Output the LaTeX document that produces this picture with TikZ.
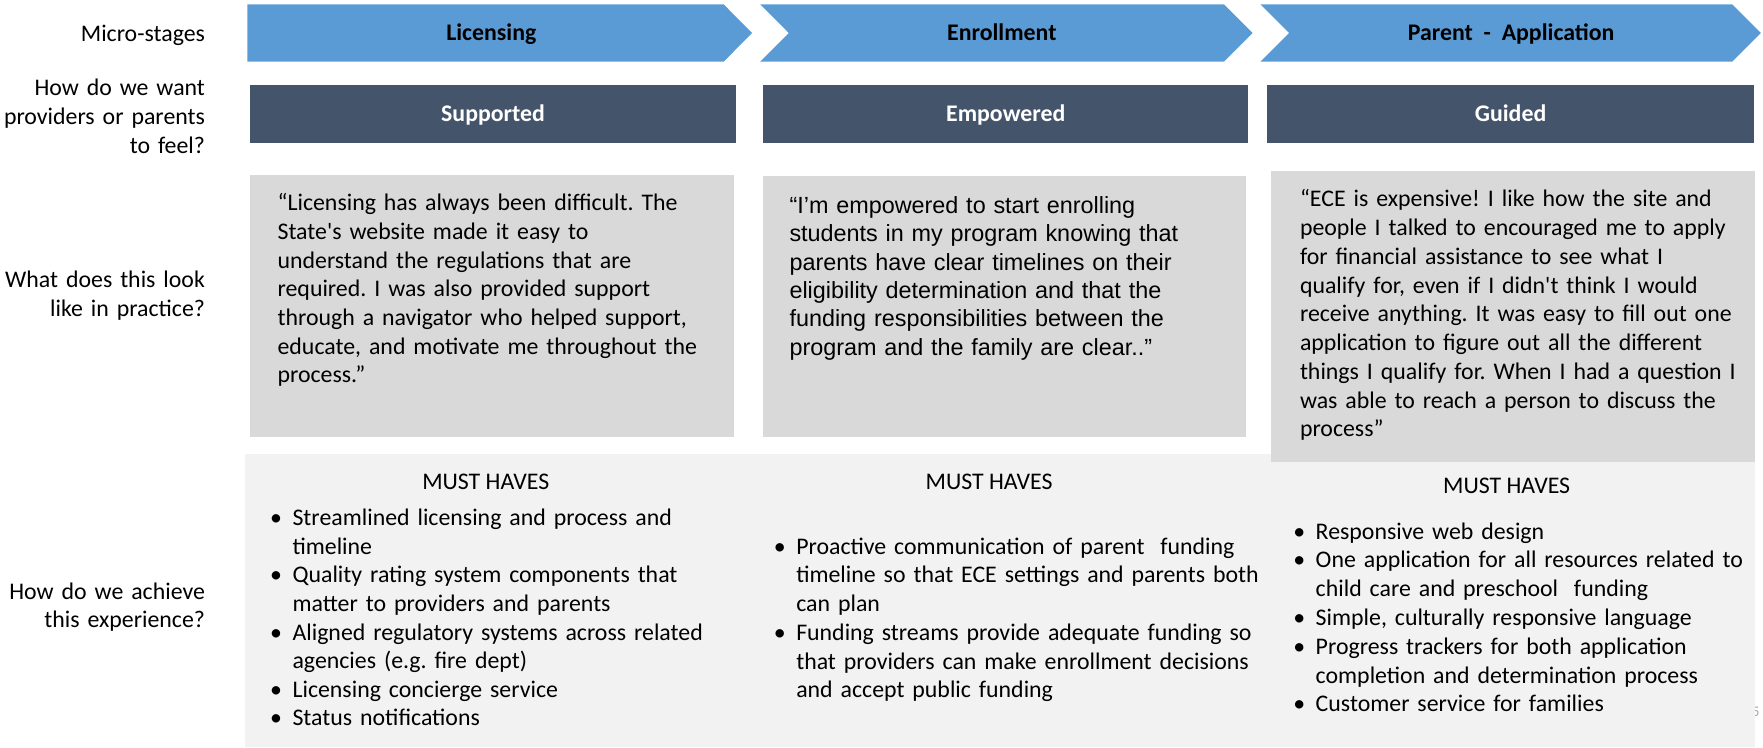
\documentclass[tikz,border=0pt]{standalone}
\usepackage{fontspec}
\setmainfont{Carlito}[Ligatures=TeXOff]
\newfontfamily\arialfont{Liberation Sans}[Ligatures=TeXOff]
\usetikzlibrary{positioning}
\frenchspacing

\definecolor{stageblue}{HTML}{5B9BD5}
\definecolor{feelbar}{HTML}{44546A}
\definecolor{quotegray}{HTML}{D9D9D9}
\definecolor{panelgray}{HTML}{F2F2F2}
\definecolor{slidegray}{HTML}{A6A6A6}

\newcommand{\mhbullet}{\makebox[20pt][l]{\textbullet}}
\newcommand{\mhindent}{\hspace*{20pt}}

\tikzset{
	rowlabel/.style={font=\fontsize{21.2}{25.8}\selectfont, text width=200pt, align=right, inner sep=0pt, anchor=base east},
	stagetext/.style={font=\fontsize{21.2}{25}\selectfont\bfseries, inner sep=0pt, anchor=base},
	feeltext/.style={font=\fontsize{21.2}{25}\selectfont\bfseries, text=white, inner sep=0pt, anchor=base},
	quotetext/.style={font=\fontsize{21.2}{25.5}\selectfont, text width=500pt, align=left, inner sep=0pt, anchor=base west},
	musthead/.style={font=\fontsize{21.2}{25}\selectfont, inner sep=0pt, anchor=base},
	mustlist/.style={font=\fontsize{21.2}{25.4}\selectfont, text width=520pt, align=left, inner sep=0pt, anchor=base west}
}

\begin{document}
\begin{tikzpicture}[x=1pt,y=-1pt]
	\useasboundingbox (0,0) rectangle (1568,665);
	\pgfmathsetmacro{\StageTop}{3.8}
	\pgfmathsetmacro{\StageBot}{54.9}
	\pgfmathsetmacro{\StageMid}{29.35}
	\pgfmathsetmacro{\Tip}{25.5}
	\pgfmathsetmacro{\FeelTop}{75.6}
	\pgfmathsetmacro{\FeelBot}{127}
	% ROW LABELS
	\node[rowlabel] (lblstage) at (182.5,36.5) {Micro-stages};
	\node[rowlabel, font=\fontsize{21.2}{26}\selectfont] (lblfeel) at (182.5,84.5) {How do we want\\providers or parents\\to feel?};
	\node[rowlabel] (lblpractice) at (182.5,255.5) {What does this look\\like in practice?};
	\node[rowlabel, font=\fontsize{21.2}{25}\selectfont] (lblachieve) at (182.5,533) {How do we achieve\\this experience?};
	% STAGES
	\fill[stageblue] (220,\StageTop) -- (669-\Tip,\StageTop) -- (669,\StageMid) -- (669-\Tip,\StageBot) -- (220,\StageBot) -- cycle;
	\foreach \l/\r in {676/1114, 1121/1566}
		\fill[stageblue] (\l,\StageTop) -- (\r-\Tip,\StageTop) -- (\r,\StageMid) -- (\r-\Tip,\StageBot) -- (\l,\StageBot) -- (\l+\Tip,\StageMid) -- cycle;
	\node[stagetext] (stLicensing) at (437,36.2) {Licensing};
	\node[stagetext] (stEnrollment) at (891,36.2) {Enrollment};
	\node[stagetext] (stParent) at (1344,36.2) {Parent\ \ -\ \ Application};
	% FEELINGS
	\fill[feelbar] (222,\FeelTop) rectangle (655,\FeelBot);
	\fill[feelbar] (679,\FeelTop) rectangle (1110,\FeelBot);
	\fill[feelbar] (1127,\FeelTop) rectangle (1560,\FeelBot);
	\node[feeltext] (fSupported) at (438.5,108) {Supported};
	\node[feeltext] (fEmpowered) at (894.5,108) {Empowered};
	\node[feeltext] (fGuided) at (1343.5,108) {Guided};
	% MUST HAVES PANEL
	\node[font=\fontsize{13}{15}\selectfont, text=slidegray, inner sep=0pt] (slideno) at (1561.5,633) {5};
	\fill[panelgray] (218,404) rectangle (1561,664);
	% QUOTES
	\fill[quotegray] (222.4,155.7) rectangle (653,388.5);
	\fill[quotegray] (678.2,156.6) rectangle (1108.4,389);
	\fill[quotegray] (1130,152) rectangle (1560.6,410.7);
	\node[quotetext] (qLicensing) at (246.7,187.4) {“Licensing has always been difficult. The\\State's website made it easy to\\understand the regulations that are\\required. I was also provided support\\through a navigator who helped support,\\educate, and motivate me throughout the\\process.”};
	\node[quotetext, font=\arialfont\fontsize{20.8}{25.3}\selectfont] (qEnrollment) at (702,189.6) {“I’m empowered to start enrolling\\students in my program knowing that\\parents have clear timelines on their\\eligibility determination and that the\\funding responsibilities between the\\program and the family are clear..”};
	\node[quotetext, font=\fontsize{21.2}{25.6}\selectfont] (qParent) at (1156,183.8) {“ECE is expensive! I like how the site and\\people I talked to encouraged me to apply\\for financial assistance to see what I\\qualify for, even if I didn't think I would\\receive anything. It was easy to fill out one\\application to figure out all the different\\things I qualify for. When I had a question I\\was able to reach a person to discuss the\\process”};
	% MUST HAVES
	\node[musthead] (mhLicensing) at (432,435.3) {MUST HAVES};
	\node[musthead] (mhEnrollment) at (879.7,435.3) {MUST HAVES};
	\node[musthead] (mhParent) at (1340,439) {MUST HAVES};
	\node[mustlist] (listLicensing) at (240,467.7) {\mhbullet Streamlined licensing and process and\\\mhindent timeline\\\mhbullet Quality rating system components that\\\mhindent matter to providers and parents\\\mhbullet Aligned regulatory systems across related\\\mhindent agencies (e.g. fire dept)\\\mhbullet Licensing concierge service\\\mhbullet Status notifications};
	\node[mustlist, font=\fontsize{21.2}{25.5}\selectfont] (listEnrollment) at (688,493) {\mhbullet Proactive communication of parent\ \ funding\\\mhindent timeline so that ECE settings and parents both\\\mhindent can plan\\\mhbullet Funding streams provide adequate funding so\\\mhindent that providers can make enrollment decisions\\\mhindent and accept public funding};
	\node[mustlist, font=\fontsize{21.2}{25.6}\selectfont] (listParent) at (1150,479.5) {\mhbullet Responsive web design\\\mhbullet One application for all resources related to\\\mhindent child care and preschool\ \ funding\\\mhbullet Simple, culturally responsive language\\\mhbullet Progress trackers for both application\\\mhindent completion and determination process\\\mhbullet Customer service for families};
\end{tikzpicture}
\end{document}
